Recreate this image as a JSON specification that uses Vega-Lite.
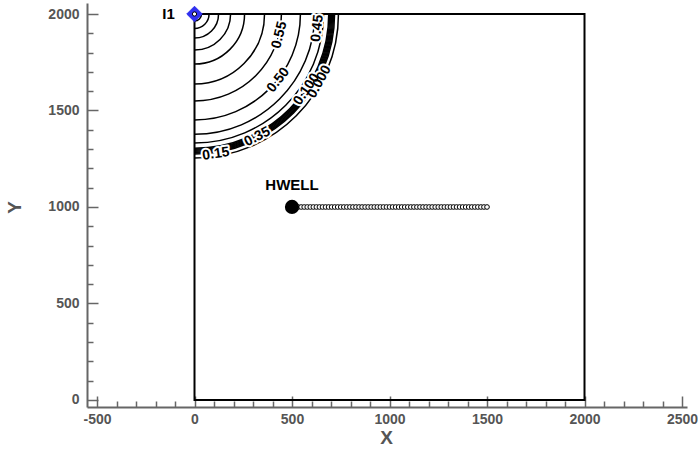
{
  "$schema": "https://vega.github.io/schema/vega-lite/v6.json",
  "width": 600,
  "height": 404,
  "autosize": "none",
  "padding": {"left": 87, "top": 3, "right": 11, "bottom": 45},
  "background": "white",
  "config": {
    "view": {"stroke": null},
    "font": "Liberation Sans"
  },
  "datasets": {
    "domainBox": [{"x": 0, "y": 0, "x2": 2000, "y2": 2000}],
    "contours": [
      {"level": 0.85, "r": 36, "x": 0, "y": 2000},
      {"level": 0.80, "r": 75, "x": 0, "y": 2000},
      {"level": 0.75, "r": 124, "x": 0, "y": 2000},
      {"level": 0.70, "r": 186, "x": 0, "y": 2000},
      {"level": 0.65, "r": 258, "x": 0, "y": 2000},
      {"level": 0.60, "r": 361, "x": 0, "y": 2000},
      {"level": 0.55, "r": 448, "x": 0, "y": 2000},
      {"level": 0.50, "r": 546, "x": 0, "y": 2000},
      {"level": 0.45, "r": 620, "x": 0, "y": 2000},
      {"level": 0.40, "r": 665, "x": 0, "y": 2000},
      {"level": 0.35, "r": 692, "x": 0, "y": 2000},
      {"level": 0.30, "r": 697, "x": 0, "y": 2000},
      {"level": 0.25, "r": 702, "x": 0, "y": 2000},
      {"level": 0.20, "r": 707, "x": 0, "y": 2000},
      {"level": 0.15, "r": 712, "x": 0, "y": 2000},
      {"level": 0.10, "r": 717, "x": 0, "y": 2000},
      {"level": 0.05, "r": 722, "x": 0, "y": 2000},
      {"level": 0.00, "r": 742, "x": 0, "y": 2000}
    ],
    "contourLabels": [
      {"label": "0.55", "x": 435, "y": 1891},
      {"label": "0.50", "x": 430, "y": 1658},
      {"label": "0.45", "x": 630, "y": 1926},
      {"label": "0.35", "x": 322, "y": 1364},
      {"label": "0.15", "x": 110, "y": 1275},
      {"label": "0.100", "x": 575, "y": 1610},
      {"label": "0.000", "x": 640, "y": 1649}
    ],
    "wells": [
      {"name": "HWELL", "x": 500, "y": 1000},
      {"name": "I1", "x": 0, "y": 2000}
    ],
    "hwellTrajectory": [
      {"x": 500, "y": 1000}, {"x": 515.6, "y": 1000}, {"x": 531.3, "y": 1000}, {"x": 546.9, "y": 1000},
      {"x": 562.5, "y": 1000}, {"x": 578.1, "y": 1000}, {"x": 593.8, "y": 1000}, {"x": 609.4, "y": 1000},
      {"x": 625, "y": 1000}, {"x": 640.6, "y": 1000}, {"x": 656.3, "y": 1000}, {"x": 671.9, "y": 1000},
      {"x": 687.5, "y": 1000}, {"x": 703.1, "y": 1000}, {"x": 718.8, "y": 1000}, {"x": 734.4, "y": 1000},
      {"x": 750, "y": 1000}, {"x": 765.6, "y": 1000}, {"x": 781.3, "y": 1000}, {"x": 796.9, "y": 1000},
      {"x": 812.5, "y": 1000}, {"x": 828.1, "y": 1000}, {"x": 843.8, "y": 1000}, {"x": 859.4, "y": 1000},
      {"x": 875, "y": 1000}, {"x": 890.6, "y": 1000}, {"x": 906.3, "y": 1000}, {"x": 921.9, "y": 1000},
      {"x": 937.5, "y": 1000}, {"x": 953.1, "y": 1000}, {"x": 968.8, "y": 1000}, {"x": 984.4, "y": 1000},
      {"x": 1000, "y": 1000}, {"x": 1015.6, "y": 1000}, {"x": 1031.3, "y": 1000}, {"x": 1046.9, "y": 1000},
      {"x": 1062.5, "y": 1000}, {"x": 1078.1, "y": 1000}, {"x": 1093.8, "y": 1000}, {"x": 1109.4, "y": 1000},
      {"x": 1125, "y": 1000}, {"x": 1140.6, "y": 1000}, {"x": 1156.3, "y": 1000}, {"x": 1171.9, "y": 1000},
      {"x": 1187.5, "y": 1000}, {"x": 1203.1, "y": 1000}, {"x": 1218.8, "y": 1000}, {"x": 1234.4, "y": 1000},
      {"x": 1250, "y": 1000}, {"x": 1265.6, "y": 1000}, {"x": 1281.3, "y": 1000}, {"x": 1296.9, "y": 1000},
      {"x": 1312.5, "y": 1000}, {"x": 1328.1, "y": 1000}, {"x": 1343.8, "y": 1000}, {"x": 1359.4, "y": 1000},
      {"x": 1375, "y": 1000}, {"x": 1390.6, "y": 1000}, {"x": 1406.3, "y": 1000}, {"x": 1421.9, "y": 1000},
      {"x": 1437.5, "y": 1000}, {"x": 1453.1, "y": 1000}, {"x": 1468.8, "y": 1000}, {"x": 1484.4, "y": 1000},
      {"x": 1500, "y": 1000}
    ]
  },
  "encoding": {
    "x": {
      "field": "x",
      "type": "quantitative",
      "scale": {"domain": [-551.3, 2525.6], "nice": false, "zero": false},
      "axis": {
        "orient": "bottom",
        "title": "X",
        "values": [-500, -400, -300, -200, -100, 0, 100, 200, 300, 400, 500, 600, 700, 800, 900, 1000, 1100, 1200, 1300, 1400, 1500, 1600, 1700, 1800, 1900, 2000, 2100, 2200, 2300, 2400, 2500],
        "labelExpr": "datum.value % 500 === 0 ? '' + datum.value : ''",
        "labelOverlap": false,
        "labelFlush": false,
        "labelFont": "Liberation Sans",
        "labelFontSize": 14,
        "labelFontWeight": "bold",
        "labelColor": "#555555",
        "labelPadding": 16,
        "domainColor": "#666666",
        "domainWidth": 2,
        "tickColor": "#666666",
        "tickWidth": 1.5,
        "tickSize": {"condition": {"test": "datum.value % 500 === 0", "value": -11}, "value": -6},
        "grid": false,
        "titleFont": "Liberation Sans",
        "titleFontSize": 19,
        "titleFontWeight": "bold",
        "titleColor": "#555555",
        "titleAlign": "center",
        "titleBaseline": "middle",
        "titleX": 299,
        "titleY": 30
      }
    },
    "y": {
      "field": "y",
      "type": "quantitative",
      "scale": {"domain": [-36.3, 2057], "nice": false, "zero": false},
      "axis": {
        "orient": "left",
        "title": "Y",
        "values": [0, 100, 200, 300, 400, 500, 600, 700, 800, 900, 1000, 1100, 1200, 1300, 1400, 1500, 1600, 1700, 1800, 1900, 2000],
        "labelExpr": "datum.value % 500 === 0 ? '' + datum.value : ''",
        "labelOverlap": false,
        "labelFlush": false,
        "labelFont": "Liberation Sans",
        "labelFontSize": 14,
        "labelFontWeight": "bold",
        "labelColor": "#555555",
        "labelPadding": 19,
        "domainColor": "#666666",
        "domainWidth": 2,
        "tickColor": "#666666",
        "tickWidth": 1.5,
        "tickSize": {"condition": {"test": "datum.value % 500 === 0", "value": -11}, "value": -6},
        "grid": false,
        "titleFont": "Liberation Sans",
        "titleFontSize": 19,
        "titleFontWeight": "bold",
        "titleColor": "#555555",
        "titleAlign": "center",
        "titleBaseline": "middle",
        "titleAngle": -90,
        "titleX": -73,
        "titleY": 204
      }
    }
  },
  "layer": [
    {
      "data": {"name": "domainBox"},
      "mark": {"type": "rect", "filled": false, "stroke": "black", "strokeWidth": 2},
      "encoding": {
        "x2": {"field": "x2"},
        "y2": {"field": "y2"}
      }
    },
    {
      "data": {"name": "contours"},
      "mark": {"type": "point", "shape": "M1,0A1,1,0,0,1,0,1", "filled": false, "fill": null, "stroke": "black", "strokeWidth": 1.5, "opacity": 1},
      "encoding": {
        "size": {"field": "r", "type": "quantitative", "legend": null, "scale": {"type": "pow", "exponent": 2, "domain": [0, 2000], "range": [0, 602176], "zero": true, "nice": false}}
      }
    },
    {
      "data": {"name": "contourLabels"},
      "transform": [{"calculate": "atan2(2000 - datum.y, datum.x) * 180 / PI - 90", "as": "rot"}],
      "mark": {"type": "text", "font": "Liberation Sans", "fontSize": 14, "fontWeight": "bold", "fill": "white", "stroke": "white", "strokeWidth": 4, "strokeJoin": "round", "align": "center", "baseline": "middle"},
      "encoding": {
        "text": {"field": "label"},
        "angle": {"field": "rot", "type": "quantitative", "scale": null}
      }
    },
    {
      "data": {"name": "contourLabels"},
      "transform": [{"calculate": "atan2(2000 - datum.y, datum.x) * 180 / PI - 90", "as": "rot"}],
      "mark": {"type": "text", "font": "Liberation Sans", "fontSize": 14, "fontWeight": "bold", "fill": "black", "align": "center", "baseline": "middle"},
      "encoding": {
        "text": {"field": "label"},
        "angle": {"field": "rot", "type": "quantitative", "scale": null}
      }
    },
    {
      "data": {"name": "hwellTrajectory"},
      "mark": {"type": "point", "shape": "circle", "filled": true, "fill": "white", "stroke": "black", "strokeWidth": 1, "size": 22, "opacity": 1}
    },
    {
      "data": {"name": "wells"},
      "transform": [{"filter": "datum.name === 'HWELL'"}],
      "mark": {"type": "point", "shape": "circle", "filled": true, "fill": "black", "stroke": "black", "size": 150, "opacity": 1}
    },
    {
      "data": {"name": "wells"},
      "transform": [{"filter": "datum.name === 'HWELL'"}],
      "mark": {"type": "text", "font": "Liberation Sans", "fontSize": 15, "fontWeight": "bold", "fill": "black", "align": "center", "baseline": "middle", "dy": -22},
      "encoding": {"text": {"field": "name"}}
    },
    {
      "data": {"name": "wells"},
      "transform": [{"filter": "datum.name === 'I1'"}],
      "mark": {"type": "point", "shape": "diamond", "filled": true, "fill": "#3030f0", "stroke": "#3030f0", "strokeWidth": 1, "size": 240, "opacity": 1}
    },
    {
      "data": {"name": "wells"},
      "transform": [{"filter": "datum.name === 'I1'"}],
      "mark": {"type": "point", "shape": "circle", "filled": true, "fill": "white", "stroke": "black", "strokeWidth": 1, "size": 18, "opacity": 1}
    },
    {
      "data": {"name": "wells"},
      "transform": [{"filter": "datum.name === 'I1'"}],
      "mark": {"type": "text", "font": "Liberation Sans", "fontSize": 15, "fontWeight": "bold", "fill": "black", "align": "center", "baseline": "middle", "dx": -26},
      "encoding": {"text": {"field": "name"}}
    }
  ]
}
